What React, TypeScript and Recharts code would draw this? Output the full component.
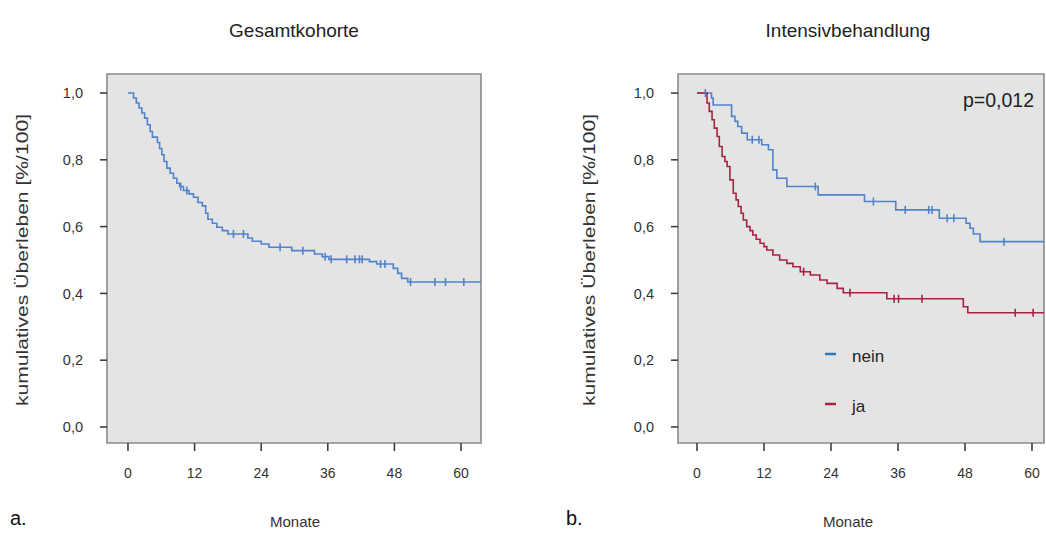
import { LineChart, Line, XAxis, YAxis, ReferenceArea } from 'recharts';

// Gesamtkohorte (a.)
const gesamtMonths = [0, 1.0, 1.5, 2.0, 2.5, 3.0, 3.5, 4.0, 4.4, 5.3, 5.7, 6.1, 6.5, 7.0, 7.6, 8.2, 8.8, 9.3, 9.5, 10.0, 10.6, 11.0, 11.8, 12.6, 13.4, 14.0, 14.4, 15.2, 16.0, 17.0, 18.0, 19.0, 20.8, 21.6, 22.4, 24.0, 25.4, 27.4, 29.5, 31.5, 33.6, 35.0, 35.5, 36.2, 36.6, 39.4, 40.9, 41.7, 42.2, 43.5, 44.8, 45.5, 46.3, 47.8, 48.6, 49.3, 50.4, 50.9, 55.3, 57.2, 60.5, 63.6];
const gesamtSurv = [1, 0.985, 0.97, 0.955, 0.94, 0.925, 0.905, 0.885, 0.868, 0.852, 0.834, 0.815, 0.795, 0.775, 0.76, 0.745, 0.73, 0.72, 0.72, 0.708, 0.708, 0.698, 0.688, 0.672, 0.662, 0.64, 0.622, 0.61, 0.598, 0.588, 0.578, 0.578, 0.578, 0.566, 0.556, 0.548, 0.538, 0.538, 0.528, 0.528, 0.518, 0.51, 0.51, 0.502, 0.502, 0.502, 0.502, 0.502, 0.502, 0.495, 0.488, 0.488, 0.488, 0.475, 0.46, 0.445, 0.434, 0.434, 0.434, 0.434, 0.434, 0.434];
const gesamtCensored = [0, 0, 0, 0, 0, 0, 0, 0, 0, 0, 0, 0, 0, 0, 0, 0, 0, 0, 1, 0, 1, 0, 0, 0, 0, 0, 0, 0, 0, 0, 0, 1, 1, 0, 0, 0, 0, 1, 0, 1, 0, 0, 1, 0, 1, 1, 1, 1, 1, 0, 0, 1, 1, 0, 0, 0, 0, 1, 1, 1, 1, 0];

// Intensivbehandlung: nein
const neinMonths = [0, 1.5, 2.6, 2.9, 6.2, 6.8, 7.3, 8.0, 9.0, 9.9, 11.1, 11.6, 12.8, 13.6, 14.3, 16.1, 21.2, 21.7, 30.0, 31.6, 35.6, 37.3, 41.5, 42.1, 43.4, 44.8, 46.0, 48.2, 48.9, 49.5, 50.7, 55.0, 62.2];
const neinSurv = [1, 1, 0.985, 0.964, 0.93, 0.915, 0.9, 0.88, 0.86, 0.86, 0.86, 0.845, 0.83, 0.77, 0.745, 0.72, 0.72, 0.695, 0.675, 0.675, 0.65, 0.65, 0.65, 0.65, 0.625, 0.625, 0.625, 0.61, 0.595, 0.578, 0.555, 0.555, 0.555];
const neinCensored = [0, 1, 0, 0, 0, 0, 0, 0, 0, 1, 1, 0, 0, 0, 0, 0, 1, 0, 0, 1, 0, 1, 1, 1, 0, 1, 1, 0, 0, 0, 0, 1, 0];

// Intensivbehandlung: ja
const jaMonths = [0, 1.8, 2.2, 2.7, 3.1, 3.6, 4.0, 4.5, 5.0, 5.4, 5.9, 6.5, 7.0, 7.4, 7.9, 8.3, 8.9, 9.5, 10.0, 10.6, 11.3, 12.0, 12.5, 13.6, 14.8, 16.1, 17.2, 18.5, 19.1, 20.3, 22.0, 23.3, 25.1, 26.2, 27.4, 34.0, 35.3, 36.1, 40.3, 47.7, 48.5, 57.0, 60.2, 62.2];
const jaSurv = [1, 0.97, 0.945, 0.92, 0.895, 0.87, 0.84, 0.81, 0.795, 0.78, 0.74, 0.7, 0.68, 0.66, 0.64, 0.62, 0.6, 0.588, 0.575, 0.562, 0.55, 0.54, 0.53, 0.515, 0.5, 0.49, 0.48, 0.465, 0.465, 0.455, 0.44, 0.43, 0.415, 0.402, 0.402, 0.384, 0.384, 0.384, 0.384, 0.36, 0.342, 0.342, 0.342, 0.342];
const jaCensored = [0, 0, 0, 0, 0, 0, 0, 0, 0, 0, 0, 0, 0, 0, 0, 0, 0, 0, 0, 0, 0, 0, 0, 0, 0, 0, 0, 0, 1, 0, 0, 0, 0, 0, 1, 0, 1, 1, 1, 0, 0, 1, 1, 0];

const monthTicks = [0, 12, 24, 36, 48, 60];
const survTicks = [0, 0.2, 0.4, 0.6, 0.8, 1.0];

const FONT = '"Liberation Sans", Arial, sans-serif';
const TEXT = '#333';
const BLUE = '#4f83cc';
const RED = '#a82340';
const Y_DOMAIN: [number, number] = [-0.048, 1.057];

const toRows = (m: number[], s: number[], c: number[]) => m.map((t, i) => ({ t, s: s[i], c: c[i] }));

const censorDot = (color: string) => (props: any) => {
  const { cx, cy, payload, index } = props;
  if (!payload.c) return <g key={`n${index}`} />;
  return <line key={`c${index}`} x1={cx} x2={cx} y1={cy - 4} y2={cy + 4} stroke={color} strokeWidth={1.6} />;
};

const fmt = (v: number) => v.toFixed(1).replace('.', ',');

function Panel({ xDomain, yWidth, width, children }: { xDomain: [number, number]; yWidth: number; width: number; children: any }) {
  return (
    <LineChart width={width} height={534} margin={{ top: 74, right: 2, bottom: 61, left: 0 }}>
      <XAxis
        type="number"
        dataKey="t"
        domain={xDomain}
        ticks={monthTicks}
        allowDataOverflow
        axisLine={false}
        tickLine={{ stroke: '#333', strokeWidth: 1.5 }}
        tickSize={8}
        tickMargin={17}
        height={30}
        tick={{ fill: TEXT, fontSize: 14, fontFamily: FONT }}
      />
      <YAxis
        type="number"
        domain={Y_DOMAIN}
        ticks={survTicks}
        allowDataOverflow
        axisLine={false}
        tickLine={{ stroke: '#333', strokeWidth: 1.5 }}
        tickSize={7}
        tickMargin={17}
        width={yWidth}
        tickFormatter={fmt}
        tick={{ fill: TEXT, fontSize: 14.5, fontFamily: FONT }}
      />
      <ReferenceArea
        x1={xDomain[0]}
        x2={xDomain[1]}
        y1={Y_DOMAIN[0]}
        y2={Y_DOMAIN[1]}
        ifOverflow="visible"
        fill="#e4e4e4"
        fillOpacity={1}
        stroke="#8a8a8a"
        strokeWidth={1.6}
      />
      {children}
    </LineChart>
  );
}

export default function App() {
  return (
    <div style={{ position: 'absolute', left: 0, top: 0, width: 1046, height: 534, background: '#fff', overflow: 'hidden' }}>
      <div style={{ position: 'absolute', left: 0, top: 0 }}>
        <Panel xDomain={[-3.78, 63.6]} yWidth={107} width={483}>
          <Line
            data={toRows(gesamtMonths, gesamtSurv, gesamtCensored)}
            type="stepAfter"
            dataKey="s"
            stroke={BLUE}
            strokeWidth={1.6}
            dot={censorDot(BLUE)}
            activeDot={false}
            isAnimationActive={false}
          />
        </Panel>
      </div>
      <div style={{ position: 'absolute', left: 560, top: 0 }}>
        <Panel xDomain={[-3.4, 62.15]} yWidth={118} width={486}>
          <Line
            data={toRows(neinMonths, neinSurv, neinCensored)}
            type="stepAfter"
            dataKey="s"
            stroke={BLUE}
            strokeWidth={1.6}
            dot={censorDot(BLUE)}
            activeDot={false}
            isAnimationActive={false}
          />
          <Line
            data={toRows(jaMonths, jaSurv, jaCensored)}
            type="stepAfter"
            dataKey="s"
            stroke={RED}
            strokeWidth={1.6}
            dot={censorDot(RED)}
            activeDot={false}
            isAnimationActive={false}
          />
        </Panel>
      </div>
      <svg width={1046} height={534} style={{ position: 'absolute', left: 0, top: 0, pointerEvents: 'none' }} fontFamily={FONT}>
        <text x={294} y={37} textAnchor="middle" fontSize={19} fill="#222">Gesamtkohorte</text>
        <text x={848} y={37} textAnchor="middle" fontSize={19} fill="#222">Intensivbehandlung</text>
        <text x={28} y={260} transform="rotate(-90 28 260)" textAnchor="middle" fontSize={16.5} textLength={292} lengthAdjust="spacingAndGlyphs" fill={TEXT}>kumulatives Überleben [%/100]</text>
        <text x={595} y={260} transform="rotate(-90 595 260)" textAnchor="middle" fontSize={16.5} textLength={292} lengthAdjust="spacingAndGlyphs" fill={TEXT}>kumulatives Überleben [%/100]</text>
        <text x={295} y={527} textAnchor="middle" fontSize={15} fill={TEXT}>Monate</text>
        <text x={848} y={527} textAnchor="middle" fontSize={15} fill={TEXT}>Monate</text>
        <text x={10} y={525} fontSize={20} fill="#111">a.</text>
        <text x={566} y={525} fontSize={20} fill="#111">b.</text>
        <text x={1034} y={107} textAnchor="end" fontSize={19.5} fill="#222">p=0,012</text>
        <line x1={825} x2={836} y1={354} y2={354} stroke="#2f78c0" strokeWidth={2.5} />
        <text x={852} y={362} fontSize={17} fill="#222">nein</text>
        <line x1={825} x2={836} y1={404} y2={404} stroke={RED} strokeWidth={2.5} />
        <text x={852} y={412} fontSize={17} fill="#222">ja</text>
      </svg>
    </div>
  );
}
